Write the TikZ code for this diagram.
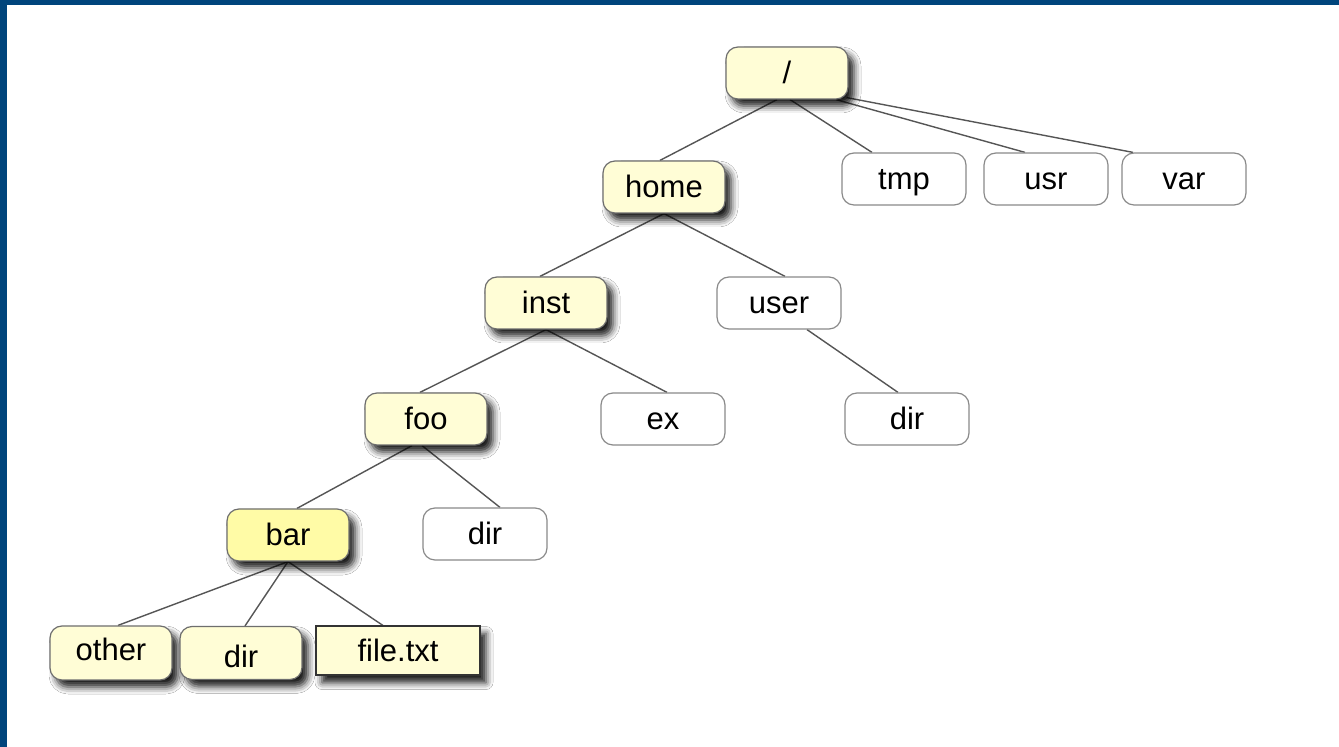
\documentclass[tikz,border=0pt]{standalone}
\usepackage{fontspec}
\setmainfont{Liberation Sans}
\usetikzlibrary{shadows.blur,backgrounds}
\definecolor{frameblue}{HTML}{00457C}
\definecolor{paleyellow}{HTML}{FFFDD6}
\definecolor{baryellow}{HTML}{FFFBA6}
\definecolor{edgegray}{HTML}{555555}
\definecolor{boxgray}{HTML}{6E6E6E}
\definecolor{whitegray}{HTML}{8A8A8A}
\tikzset{
  boxtext/.style={font=\fontsize{15.5}{18}\selectfont, text height=11pt, text depth=0pt},
  yshadow/.style={blur shadow={shadow xshift=3pt, shadow yshift=-3.5pt, shadow blur radius=3.5pt, shadow opacity=90}},
  dirbox/.style={boxtext, yshadow, draw=boxgray, line width=0.6pt, fill=paleyellow, rounded corners=6pt,
    minimum width=61pt, minimum height=26pt, inner sep=0pt},
  plainbox/.style={boxtext, draw=whitegray, line width=0.6pt, fill=white, rounded corners=6pt,
    minimum width=62pt, minimum height=26pt, inner sep=0pt},
  filebox/.style={boxtext, yshadow, draw=black!80, line width=1pt, fill=paleyellow,
    minimum width=82pt, minimum height=24.5pt, inner sep=0pt},
  link/.style={draw=edgegray, line width=0.7pt}
}
\begin{document}
\begin{tikzpicture}[x=0.5pt,y=-0.5pt]
\useasboundingbox (0,0) rectangle (1339,747);
% nodes
\node[dirbox] (root) at (787,73) {/};
\node[dirbox] (home) at (664,187) {home};
\node[plainbox] (tmp) at (904,179) {tmp};
\node[plainbox] (usr) at (1046,179) {usr};
\node[plainbox] (var) at (1184,179) {var};
\node[dirbox] (inst) at (546,303) {inst};
\node[plainbox] (user) at (779,303) {user};
\node[dirbox] (foo) at (426,419) {foo};
\node[plainbox] (ex) at (663,419) {ex};
\node[plainbox] (udir) at (907,419) {dir};
\node[dirbox, fill=baryellow] (bar) at (288,535) {bar};
\node[plainbox] (fdir) at (485,534) {dir};
\node[dirbox, minimum height=27pt] (other) at (111,653) {\raisebox{1.5pt}{other}};
\node[dirbox, minimum height=26.5pt] (bdir) at (241,653) {\raisebox{-2pt}{dir}};
\node[filebox] (file) at (398,651) {file.txt};
\begin{scope}[on background layer]
  \fill[white] (0,0) rectangle (1339,747);
  \fill[frameblue] (0,0) rectangle (7,747);
  \fill[frameblue] (0,0) rectangle (1339,5);
  \draw[link] ([xshift=-5pt]root.south) -- ([xshift=-2pt]home.north);
  \draw[link] ([xshift=1.5pt]root.south) -- ([xshift=-16pt]tmp.north);
  \draw[link] ([xshift=24.5pt]root.south) -- ([xshift=-10.5pt]usr.north);
  \draw[link] ([xshift=-1pt,yshift=1pt]root.south east) -- ([xshift=-25.5pt]var.north);
  \draw[link] (home.south) -- ([xshift=-3pt]inst.north);
  \draw[link] (home.south) -- ([xshift=3pt]user.north);
  \draw[link] (inst.south) -- ([xshift=-3pt]foo.north);
  \draw[link] (inst.south) -- ([xshift=2pt]ex.north);
  \draw[link] ([xshift=14pt]user.south) -- ([xshift=-4.5pt]udir.north);
  \draw[link] ([xshift=-7pt]foo.south) -- ([xshift=4.5pt]bar.north);
  \draw[link] ([xshift=-2pt]foo.south) -- ([xshift=7.5pt]fdir.north);
  \draw[link] (bar.south) -- ([xshift=3.5pt]other.north);
  \draw[link] (bar.south) -- ([xshift=2pt]bdir.north);
  \draw[link] (bar.south) -- ([xshift=-7.5pt]file.north);
\end{scope}
\end{tikzpicture}
\end{document}
